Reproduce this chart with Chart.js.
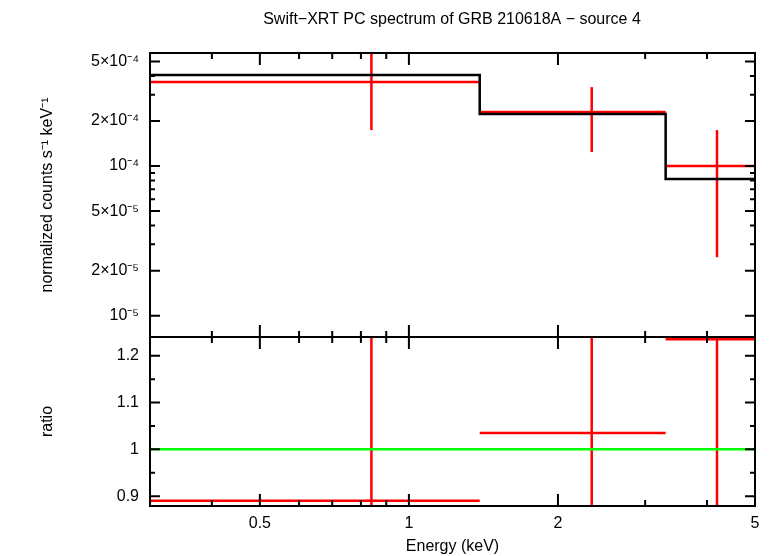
<!DOCTYPE html>
<html><head>
<script src="https://cdn.jsdelivr.net/npm/chart.js@4"></script>
<style>body{margin:0;background:#fff}canvas{position:absolute;left:0;top:0}</style>
</head><body>
<canvas id="top" width="771" height="556"></canvas>
<canvas id="bot" width="771" height="556"></canvas>
<script>
// bins (keV)
var binLo = [0.3, 1.39, 3.3];
var binHi = [1.39, 3.3, 5.0];
var binMid = [0.84, 2.34, 4.19];
// spectrum data (counts/s/keV)
var dataY = [3.65e-4, 2.3e-4, 1.0e-4];
var dataYlo = [1.74e-4, 1.24e-4, 2.46e-5];
var dataYhi = [6e-4, 3.37e-4, 1.74e-4];
var modelY = [4.06e-4, 2.23e-4, 8.2e-5];
// ratio
var ratioY = [0.89, 1.035, 1.235];
var ratioLo = [0.85, 0.85, 0.85];
var ratioHi = [1.3, 1.3, 1.3];
var yTicksTop = [5e-4, 2e-4, 1e-4, 5e-5, 2e-5, 1e-5];
var yLabelsTop = ['5×10⁻⁴', '2×10⁻⁴', '10⁻⁴', '5×10⁻⁵', '2×10⁻⁵', '10⁻⁵'];
var yTicksBot = [0.9, 1, 1.1, 1.2];
var xTicks = [0.5, 1, 2, 5];
var xMinor = [0.3, 0.4, 0.6, 0.7, 0.8, 0.9, 3, 4];

var font = {family: 'Liberation Sans', size: 16};
Chart.defaults.font.family = 'Liberation Sans';
Chart.defaults.color = '#000';

function errSets(ys, lo, hi, color) {
  var s = [];
  for (var i = 0; i < ys.length; i++) {
    s.push({data: [{x: binLo[i], y: ys[i]}, {x: binHi[i], y: ys[i]}], borderColor: color, borderWidth: 2.5, pointRadius: 0});
    s.push({data: [{x: binMid[i], y: lo[i]}, {x: binMid[i], y: hi[i]}], borderColor: color, borderWidth: 2.5, pointRadius: 0});
  }
  return s;
}

var tickPlugin = {
  id: 'ticks',
  afterDraw: function (c) {
    var a = c.chartArea, g = c.ctx, xs = c.scales.x, ys = c.scales.y;
    g.save(); g.strokeStyle = '#000'; g.lineWidth = 2;
    function xt(v, L) { var p = xs.getPixelForValue(v); g.beginPath(); g.moveTo(p, a.bottom); g.lineTo(p, a.bottom - L); g.moveTo(p, a.top); g.lineTo(p, a.top + L); g.stroke(); }
    function yt(v, L) { var p = ys.getPixelForValue(v); g.beginPath(); g.moveTo(a.left, p); g.lineTo(a.left + L, p); g.moveTo(a.right, p); g.lineTo(a.right - L, p); g.stroke(); }
    xTicks.forEach(function (v) { xt(v, 12); });
    xMinor.forEach(function (v) { xt(v, 6); });
    c.options.myTicks.forEach(function (v) { yt(v, 10); });
    (c.options.myMinor || []).forEach(function (v) { yt(v, 5); });
    g.strokeRect(a.left, a.top, a.right - a.left, a.bottom - a.top);
    if (c.options.myTitle) {
      g.fillStyle = '#000'; g.font = '16px Liberation Sans'; g.textAlign = 'center';
      g.fillText(c.options.myTitle, 452, 24);
    }
    g.restore();
  }
};

var modelPts = binLo.map(function (x, i) { return {x: x, y: modelY[i]}; });
modelPts.push({x: binHi[binHi.length - 1], y: modelY[modelY.length - 1]});

new Chart(document.getElementById('top'), {
  type: 'line',
  data: {datasets: [{data: modelPts, stepped: true, borderColor: '#000', borderWidth: 2.5, pointRadius: 0}].concat(errSets(dataY, dataYlo, dataYhi, '#f00'))},
  plugins: [tickPlugin],
  options: {
    responsive: false, animation: false, events: [],
    myTicks: yTicksTop, myTitle: 'Swift−XRT PC spectrum of GRB 210618A − source 4',
    myMinor: [3e-4, 4e-4, 3e-5, 4e-5, 6e-5, 7e-5, 8e-5, 9e-5],
    layout: {padding: {top: 53, right: 16, bottom: 219, left: 34}},
    plugins: {legend: {display: false}, tooltip: {enabled: false}},
    scales: {
      x: {type: 'logarithmic', min: 0.3, max: 5, display: false},
      y: {type: 'logarithmic', min: 7.2e-6, max: 5.7e-4,
        afterBuildTicks: function (s) { s.ticks = yTicksTop.map(function (v) { return {value: v}; }); },
        afterFit: function (s) { s.width = 116; },
        ticks: {font: font, autoSkip: false, maxRotation: 0, callback: function (v) { return yLabelsTop[yTicksTop.indexOf(v)]; }},
        grid: {display: false}, border: {display: false},
        title: {display: true, text: 'normalized counts s⁻¹ keV⁻¹', font: font}
      }
    }
  }
});

new Chart(document.getElementById('bot'), {
  type: 'line',
  data: {datasets: [{data: [{x: 0.3, y: 1}, {x: 5, y: 1}], borderColor: '#0f0', borderWidth: 2.5, pointRadius: 0}].concat(errSets(ratioY, ratioLo, ratioHi, '#f00'))},
  plugins: [tickPlugin],
  options: {
    responsive: false, animation: false, events: [],
    myTicks: yTicksBot, myMinor: [0.95, 1.05, 1.15],
    layout: {padding: {top: 337, right: 16, bottom: 0, left: 34}},
    plugins: {legend: {display: false}, tooltip: {enabled: false}},
    scales: {
      x: {type: 'logarithmic', min: 0.3, max: 5,
        afterBuildTicks: function (s) { s.ticks = xTicks.map(function (v) { return {value: v}; }); },
        afterFit: function (s) { s.height = 50; },
        ticks: {font: font, maxRotation: 0, autoSkip: false, padding: 0, callback: function (v) { return String(v); }},
        grid: {display: false}, border: {display: false},
        title: {display: true, text: 'Energy (keV)', font: font, padding: 0}
      },
      y: {min: 0.879, max: 1.24,
        afterBuildTicks: function (s) { s.ticks = yTicksBot.map(function (v) { return {value: v}; }); },
        afterFit: function (s) { s.width = 116; },
        ticks: {font: font, callback: function (v) { return String(v); }},
        grid: {display: false}, border: {display: false},
        title: {display: true, text: 'ratio', font: font}
      }
    }
  }
});
</script>
</body></html>
